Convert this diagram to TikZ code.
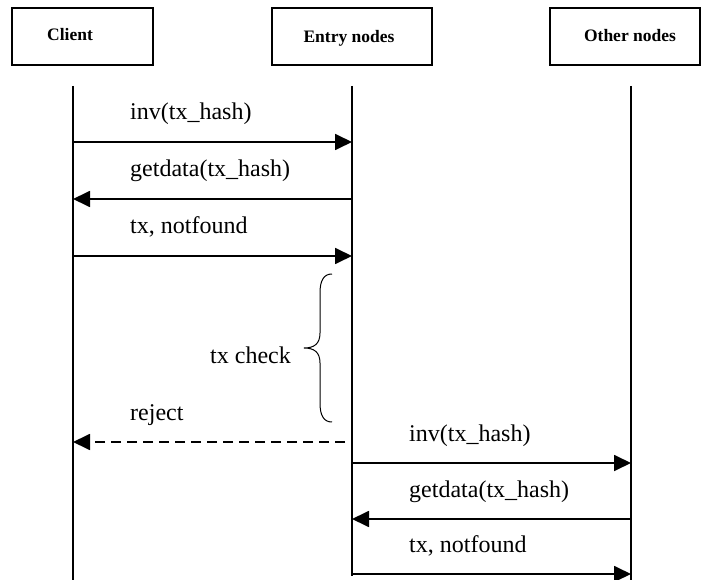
\documentclass[tikz,border=0pt]{standalone}
\usepackage{fontspec}
\setmainfont{Liberation Serif}
\usetikzlibrary{arrows.meta}
\begin{document}
\begin{tikzpicture}[x=1pt,y=-1pt,
  actor/.style={draw,line width=1.5pt,minimum width=#1,minimum height=57pt,inner sep=0pt},
  actlbl/.style={anchor=base,inner sep=0pt,font=\fontsize{17.5}{19}\selectfont\bfseries},
  life/.style={line width=1.8pt},
  msg/.style={line width=1.8pt,-{Triangle[length=17pt,width=16pt]}},
  rmsg/.style={line width=1.8pt,dash pattern=on 10pt off 6pt,-{Triangle[length=17pt,width=16pt]}},
  lbl/.style={anchor=base west,inner sep=0pt,font=\fontsize{24}{26}\selectfont}]
\useasboundingbox (0,0) rectangle (702,580);
\node[actor=141pt] (client) at (82.5,36.5) {};
\node[actor=160pt] (entry) at (352,36.5) {};
\node[actor=150pt] (other) at (625,36.5) {};
\node[actlbl] (clientt) at (70,41) {Client};
\node[actlbl] (entryt) at (349,43) {Entry nodes};
\node[actlbl] (othert) at (630,42) {Other nodes};
% lifelines
\coordinate (c0) at (73,86); \coordinate (c1) at (73,580);
\coordinate (e0) at (352,86); \coordinate (e1) at (352,576);
\coordinate (o0) at (631,86); \coordinate (o1) at (631,580);
\draw[life] (c0) -- (c1);
\draw[life] (e0) -- (e1);
\draw[life] (o0) -- (o1);
% messages
\foreach \n/\y in {a/142,b/199,c/256,d/442,e/463,f/519,g/574}{
  \coordinate (c\n) at (73,\y);
  \coordinate (e\n) at (352,\y);
  \coordinate (o\n) at (631,\y);
}
\coordinate (ed) at (345,442);
\draw[msg] (ca) -- (ea);
\draw[msg] (eb) -- (cb);
\draw[msg] (cc) -- (ec);
\draw[rmsg] (ed) -- (cd);
\draw[msg] (ee) -- (oe);
\draw[msg] (of) -- (ef);
\draw[msg] (eg) -- (og);
\node[lbl] (l1) at (130,120) {inv(tx\_hash)};
\node[lbl] (l2) at (130,177) {getdata(tx\_hash)};
\node[lbl] (l3) at (130,234) {tx, notfound};
\node[lbl] (l4) at (130,420) {reject};
\node[lbl] (l5) at (409,441) {inv(tx\_hash)};
\node[lbl] (l6) at (409,497) {getdata(tx\_hash)};
\node[lbl] (l7) at (409,552) {tx, notfound};
\node[lbl] (chk) at (210,363) {tx check};
% brace
\draw[line width=1pt] (332,274) .. controls (324,274) and (320,280) .. (320,293)
  -- (320,333) .. controls (320,344) and (314,348) .. (304,348)
  .. controls (314,348) and (320,352) .. (320,363)
  -- (320,403) .. controls (320,416) and (324,422) .. (332,422);
\end{tikzpicture}
\end{document}
